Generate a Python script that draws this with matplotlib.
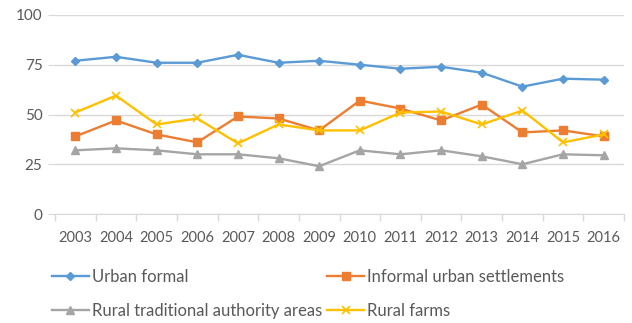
import matplotlib.pyplot as plt

years = ['2003', '2004', '2005', '2006', '2007', '2008', '2009',
         '2010', '2011', '2012', '2013', '2014', '2015', '2016']
urban_formal = [77, 79, 76, 76, 80, 76, 77, 75, 73, 74, 71, 64, 68, 67.5]
informal_urban = [39, 47, 40, 36, 49, 48, 42, 57, 53, 47, 55, 41, 42, 39]
rural_traditional = [32, 33, 32, 30, 30, 28, 24, 32, 30, 32, 29, 25, 30, 29.5]
rural_farms = [51, 59.5, 45, 48, 35.5, 45, 42, 42, 51, 51.5, 45, 52, 36, 40]

plt.rcParams['font.family'] = 'Lato'
txt = '#595959'

fig = plt.figure(figsize=(6.32, 3.23), dpi=100)
ax = fig.add_axes([55 / 632, 1 - 214 / 323, 569 / 632, 199 / 323])

x = list(range(len(years)))
lw = 1.7
h1, = ax.plot(x, urban_formal, color='#5B9BD5', lw=lw, marker='D', ms=4.5, label='Urban formal')
h2, = ax.plot(x, informal_urban, color='#ED7D31', lw=lw, marker='s', ms=6, label='Informal urban settlements')
h3, = ax.plot(x, rural_traditional, color='#A5A5A5', lw=lw, marker='^', ms=5.5, label='Rural traditional authority areas')
h4, = ax.plot(x, rural_farms, color='#FFC000', lw=lw, marker='x', ms=5.5, mew=1.2, label='Rural farms')

ax.set_xlim(-0.5, len(years) - 0.5)
ax.set_ylim(0, 100)
ax.set_yticks([0, 25, 50, 75, 100])
ax.grid(axis='y', color='#D9D9D9', lw=1)
ax.set_axisbelow(True)

# category ticks sit on the boundaries between years
ax.set_xticks([i - 0.5 for i in range(len(years) + 1)], minor=False)
ax.set_xticklabels([])
ax.set_xticks(x, minor=True)
ax.set_xticklabels(years, minor=True)
ax.tick_params(axis='x', which='major', length=5, color='#D9D9D9', width=1)
ax.tick_params(axis='x', which='minor', length=0, pad=12, labelsize=10.5, labelcolor=txt)
ax.tick_params(axis='y', length=5, color='#D9D9D9', labelsize=11, labelcolor=txt, pad=4)

for s in ['top', 'right', 'left']:
    ax.spines[s].set_visible(False)
ax.spines['bottom'].set_color('#D9D9D9')

fig.legend(handles=[h1, h3, h2, h4], ncol=2, loc='lower left',
           bbox_to_anchor=(37 / 632, -0.035), frameon=False,
           fontsize=12, labelcolor=txt, handlelength=2.2,
           handletextpad=0.2, columnspacing=0.3, labelspacing=1.1)

fig.savefig('out.png', dpi=100)
